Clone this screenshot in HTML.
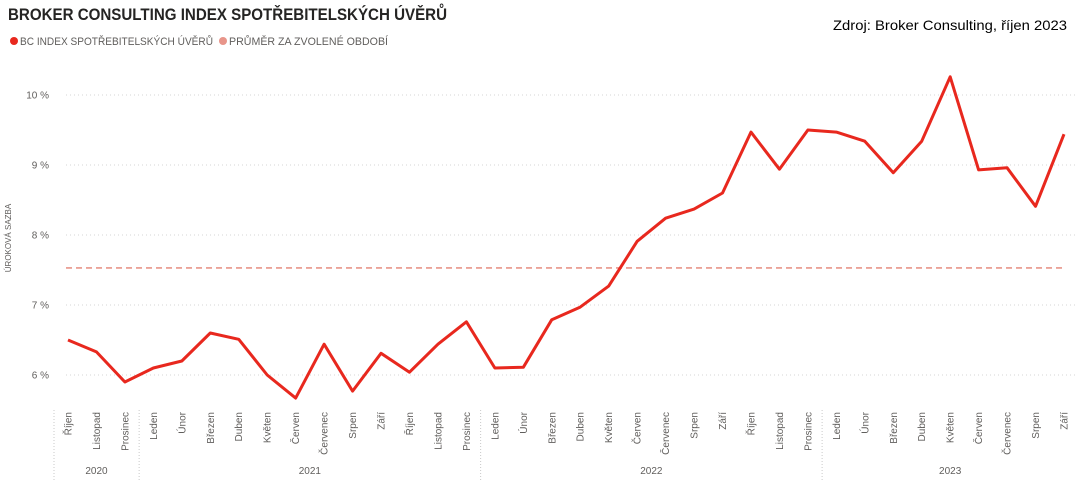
<!DOCTYPE html>
<html><head><meta charset="utf-8"><style>
body{margin:0;background:#fff;font-family:"Liberation Sans","DejaVu Sans",sans-serif;}
svg text{font-family:"Liberation Sans","DejaVu Sans",sans-serif;}
</style></head><body>
<svg id="chart" width="1080" height="489" viewBox="0 0 1080 489" xmlns="http://www.w3.org/2000/svg">
<rect x="0" y="0" width="1080" height="489" fill="#fff"/>
<text x="8" y="20" font-size="17" font-weight="bold" fill="#252423" textLength="439" lengthAdjust="spacingAndGlyphs">BROKER CONSULTING INDEX SPOTŘEBITELSKÝCH ÚVĚRŮ</text>
<text x="833" y="30" font-size="14" fill="#000" textLength="234" lengthAdjust="spacingAndGlyphs">Zdroj: Broker Consulting, říjen 2023</text>
<g>
<circle cx="14" cy="41" r="4" fill="#e8281e"/>
<text x="20" y="45" font-size="11" fill="#605e5c" textLength="193" lengthAdjust="spacingAndGlyphs">BC INDEX SPOTŘEBITELSKÝCH ÚVĚRŮ</text>
<circle cx="223" cy="41" r="4" fill="#e8958a"/>
<text x="229" y="45" font-size="11" fill="#605e5c" textLength="159" lengthAdjust="spacingAndGlyphs">PRŮMĚR ZA ZVOLENÉ OBDOBÍ</text>
</g>
<text transform="translate(11,238) rotate(-90)" text-anchor="middle" font-size="8" fill="#605e5c">ÚROKOVÁ SAZBA</text>
<g id="grid"></g><g id="xaxis"></g><g id="plot"></g>
</svg>
<script>
const months=["Říjen","Listopad","Prosinec","Leden","Únor","Březen","Duben","Květen","Červen","Červenec","Srpen","Září","Říjen","Listopad","Prosinec","Leden","Únor","Březen","Duben","Květen","Červen","Červenec","Srpen","Září","Říjen","Listopad","Prosinec","Leden","Únor","Březen","Duben","Květen","Červen","Červenec","Srpen","Září"];
const values=[6.50,6.33,5.90,6.10,6.20,6.60,6.51,6.00,5.67,6.44,5.77,6.31,6.04,6.44,6.76,6.10,6.11,6.79,6.97,7.27,7.91,8.24,8.37,8.60,9.47,8.94,9.50,9.47,9.34,8.89,9.34,10.26,8.93,8.96,8.41,9.44];
const average=[7.53];
const yTicks=[6,7,8,9,10];
const years=["2020","2021","2022","2023"];
const yearStart=[0,3,15,27];
const yearEnd=[2,14,26,35];
const NS="http://www.w3.org/2000/svg";
const x=i=>68+i*(1064-68)/35;
const y=v=>375-(v-6)*70;
function mk(tag,attrs,parent,txt){const e=document.createElementNS(NS,tag);for(const k in attrs)e.setAttribute(k,attrs[k]);if(txt!=null)e.textContent=txt;parent.appendChild(e);return e;}
const grid=document.getElementById('grid'),xa=document.getElementById('xaxis'),plot=document.getElementById('plot');
yTicks.forEach(t=>{
 const l=mk('line',{x1:66,x2:1076,y1:y(t),y2:y(t),stroke:'#d6d6d6','stroke-dasharray':'1,3'},grid);
 
 
 const tx=mk('text',{x:49,y:y(t)+3.5,'text-anchor':'end','font-size':'10',fill:'#605e5c'},grid,t+' %');
 
 
});
months.forEach((m,i)=>{
 const t=mk('text',{transform:`translate(${x(i)+3.5},412) rotate(-90)`,'text-anchor':'end','font-size':'10',fill:'#605e5c'},xa,m);
 
 
});
const sep=[x(0)-14];
yearStart.forEach((s,k)=>{if(k>0)sep.push((x(s)+x(s-1))/2);});
sep.forEach(sx=>{
 const l=mk('line',{x1:sx,x2:sx,y1:410,y2:480,stroke:'#c8c8c8','stroke-dasharray':'1,2'},xa);
 
 
});
years.forEach((yr,k)=>{
 const t=mk('text',{x:(x(yearStart[k])+x(yearEnd[k]))/2,y:474,'text-anchor':'middle','font-size':'10',fill:'#605e5c'},xa,yr);
 
 
});
const avg=mk('line',{x1:66,x2:1064,y1:y(average[0]),y2:y(average[0]),stroke:'#e8958a','stroke-width':'1.6','stroke-dasharray':'6,4'},plot);


const pl=mk('polyline',{points:values.map((v,i)=>x(i)+','+y(v)).join(' '),fill:'none',stroke:'#e8281e','stroke-width':'3','stroke-linejoin':'round'},plot);


</script>
</body></html>
